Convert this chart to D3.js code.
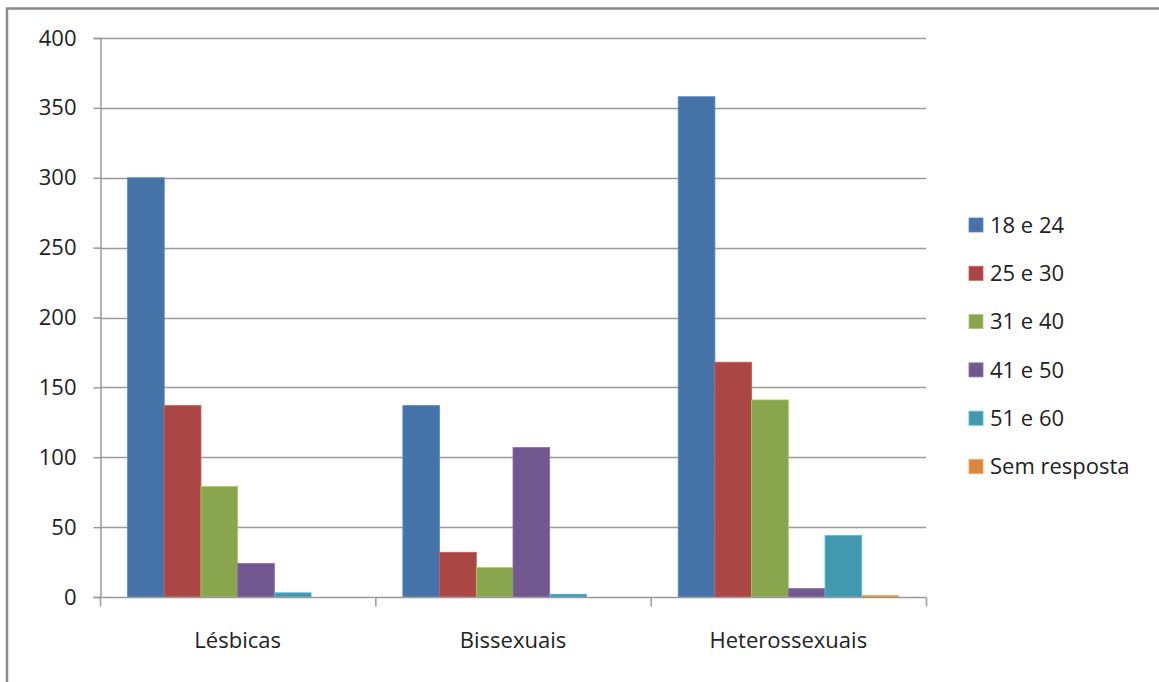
<!DOCTYPE html>
<html>
<head>
<meta charset="utf-8">
<script src="https://cdn.jsdelivr.net/npm/d3@7"></script>
<style>
  html, body { margin: 0; padding: 0; background: #fff; }
  svg { display: block; }
  text { font-family: "Open Sans", Lato, sans-serif; fill: #222; }
</style>
</head>
<body>
<svg id="chart" width="1159" height="682"></svg>
<script>
// Respondents by orientation and age group
const categories = ["Lésbicas", "Bissexuais", "Heterossexuais"];
const series = ["18 e 24", "25 e 30", "31 e 40", "41 e 50", "51 e 60", "Sem resposta"];
const values = {
  "18 e 24":      [300, 137, 358],
  "25 e 30":      [137, 32, 168],
  "31 e 40":      [79, 21, 141],
  "41 e 50":      [24, 107, 6],
  "51 e 60":      [3, 2, 44],
  "Sem resposta": [0, 0, 1]
};
const yTicks = [0, 50, 100, 150, 200, 250, 300, 350, 400];
const colors = ["#4572A7", "#AA4643", "#89A54E", "#71588F", "#4198AF", "#DB843D"];

const svg = d3.select("#chart");
const plot = { left: 100, right: 926, top: 38, bottom: 597 };
const gridColor = "#9a9a9a";

// outer chart frame
svg.append("rect")
  .attr("x", 7).attr("y", 8.5)
  .attr("width", 1200).attr("height", 700)
  .attr("fill", "none").attr("stroke", "#8a8a8a").attr("stroke-width", 2.5);

const y = d3.scaleLinear().domain([0, 400]).range([plot.bottom, plot.top]);
const x = d3.scaleBand().domain(categories).range([plot.left, plot.right]);
const bw = x.bandwidth();
const gap = bw * 1.5 / (series.length + 1.5);
const xs = d3.scaleBand().domain(series).range([gap / 2, bw - gap / 2]);
const color = d3.scaleOrdinal().domain(series).range(colors);

// horizontal gridlines
svg.append("g").selectAll("line")
  .data(yTicks.filter(t => t > 0))
  .join("line")
  .attr("x1", plot.left).attr("x2", plot.right)
  .attr("y1", d => Math.round(y(d)) + 0.5).attr("y2", d => Math.round(y(d)) + 0.5)
  .attr("stroke", gridColor).attr("stroke-width", 1.5);

// y axis
const yAxis = svg.append("g")
  .attr("transform", `translate(${plot.left + 0.5},0)`)
  .call(d3.axisLeft(y).tickValues(yTicks).tickSize(7).tickPadding(17));
yAxis.select(".domain").attr("stroke", gridColor).attr("stroke-width", 1.5);
yAxis.selectAll(".tick line").attr("stroke", gridColor).attr("stroke-width", 1.5);
yAxis.selectAll(".tick text")
  .style("font-family", '"Open Sans", Lato, sans-serif')
  .attr("font-size", 22).attr("fill", "#222");

// bars
const groups = svg.append("g").selectAll("g")
  .data(categories)
  .join("g")
  .attr("transform", d => `translate(${x(d)},0)`);

groups.selectAll("rect")
  .data((c, i) => series.map(s => ({ s, v: values[s][i] })))
  .join("rect")
  .attr("x", d => xs(d.s))
  .attr("width", xs.bandwidth())
  .attr("y", d => y(d.v))
  .attr("height", d => y(0) - y(d.v))
  .attr("fill", d => color(d.s))
  .attr("stroke", d => d3.color(color(d.s)).brighter(0.6))
  .attr("stroke-width", 0.8);

// x axis
const xAxis = svg.append("g")
  .attr("transform", `translate(0,${plot.bottom + 0.5})`);
xAxis.append("line")
  .attr("x1", plot.left).attr("x2", plot.right)
  .attr("stroke", gridColor).attr("stroke-width", 1.5);
xAxis.selectAll("line.tk")
  .data(categories.map(c => x(c)).concat([plot.right]))
  .join("line")
  .attr("class", "tk")
  .attr("x1", d => d + 0.5).attr("x2", d => d + 0.5)
  .attr("y1", 0).attr("y2", 9)
  .attr("stroke", gridColor).attr("stroke-width", 1.5);
xAxis.selectAll("text")
  .data(categories)
  .join("text")
  .attr("x", d => x(d) + bw / 2)
  .attr("y", 50)
  .attr("text-anchor", "middle")
  .attr("font-size", 22)
  .text(d => d);

// legend
const legend = svg.append("g").attr("transform", "translate(969,225)");
const item = legend.selectAll("g")
  .data(series)
  .join("g")
  .attr("transform", (d, i) => `translate(0,${i * 48.3})`);
item.append("rect")
  .attr("x", 0).attr("y", -7).attr("width", 14).attr("height", 14)
  .attr("fill", d => color(d))
  .attr("stroke", d => d3.color(color(d)).brighter(0.6))
  .attr("stroke-width", 0.8);
item.append("text")
  .attr("x", 21).attr("y", 0)
  .attr("dy", "0.35em")
  .attr("font-size", 22)
  .text(d => d);
</script>
</body>
</html>
